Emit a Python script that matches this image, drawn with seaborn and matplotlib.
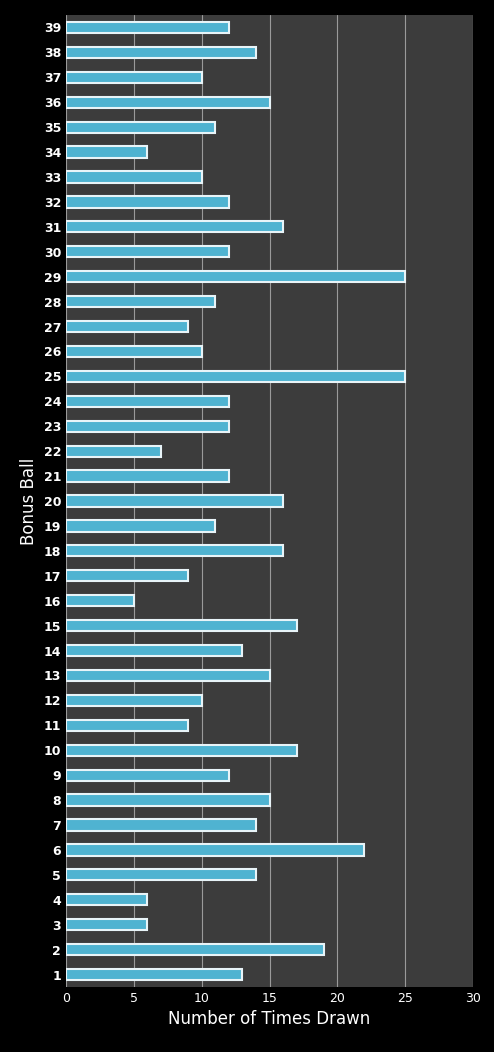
import matplotlib
matplotlib.use("Agg")
import matplotlib.pyplot as plt
import seaborn as sns
import pandas as pd

balls = list(range(1, 40))
counts = [13, 19, 6, 6, 14, 22, 14, 15, 12, 17, 9, 10, 15, 13, 17, 5, 9, 16, 11, 16,
          12, 7, 12, 12, 25, 10, 9, 11, 25, 12, 16, 12, 10, 6, 11, 15, 10, 14, 12]

df = pd.DataFrame({"ball": [str(b) for b in balls], "count": counts})
order = [str(b) for b in reversed(balls)]

sns.set_style("dark")
fig = plt.figure(figsize=(4.94, 10.52), dpi=100, facecolor="black")
ax = fig.add_axes([66/494, 1-987/1052, (473-66)/494, (987-15)/1052])
ax.set_facecolor("#3c3c3c")
sns.barplot(data=df, x="count", y="ball", order=order, orient="h", ax=ax,
            color="#4fb3d1", saturation=1, edgecolor="#e8f4f8", linewidth=1.5, width=0.45)
ax.set_xlim(0, 30)
ax.set_xticks(range(0, 31, 5))
ax.grid(axis="x", color="#9a9a9a", linewidth=0.8)
ax.grid(axis="y", visible=False)
ax.set_axisbelow(True)
for s in ax.spines.values():
    s.set_visible(False)
ax.tick_params(colors="white", labelsize=9, length=0)
for t in ax.get_yticklabels():
    t.set_fontweight("bold")
ax.set_xlabel("Number of Times Drawn", color="white", fontsize=12)
ax.set_ylabel("Bonus Ball", color="white", fontsize=12)
fig.savefig("out.png", dpi=100, facecolor="black")
